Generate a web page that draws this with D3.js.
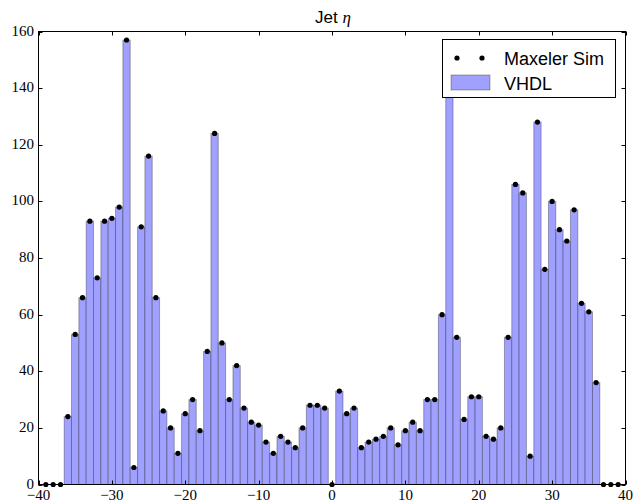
<!DOCTYPE html>
<html>
<head>
<meta charset="utf-8">
<script src="https://cdn.jsdelivr.net/npm/d3@7"></script>
<style>
  html, body { margin: 0; padding: 0; background: #fff; }
  svg { display: block; }
</style>
</head>
<body>
<svg id="chart" width="634" height="502"></svg>
<script>
// Jet eta bins (integer bin centres)
const etaBins = [
  -39, -38, -37, -36, -35, -34, -33, -32, -31, -30,
  -29, -28, -27, -26, -25, -24, -23, -22, -21, -20,
  -19, -18, -17, -16, -15, -14, -13, -12, -11, -10,
  -9, -8, -7, -6, -5, -4, -3, -2, -1, 0,
  1, 2, 3, 4, 5, 6, 7, 8, 9, 10,
  11, 12, 13, 14, 15, 16, 17, 18, 19, 20,
  21, 22, 23, 24, 25, 26, 27, 28, 29, 30,
  31, 32, 33, 34, 35, 36, 37, 38, 39
];

// VHDL histogram counts per bin
const vhdlCounts = [
  0, 0, 0, 24, 53, 66, 93, 73, 93, 94,
  98, 157, 6, 91, 116, 66, 26, 20, 11, 25,
  30, 19, 47, 124, 50, 30, 42, 27, 22, 21,
  15, 11, 17, 15, 13, 20, 28, 28, 27, 0,
  33, 25, 27, 13, 15, 16, 17, 20, 14, 19,
  22, 19, 30, 30, 60, 152, 52, 23, 31, 31,
  17, 16, 20, 52, 106, 103, 10, 128, 76, 100,
  90, 86, 97, 64, 61, 36, 0, 0, 0
];

// Maxeler simulation counts per bin
const simCounts = [
  0, 0, 0, 24, 53, 66, 93, 73, 93, 94,
  98, 157, 6, 91, 116, 66, 26, 20, 11, 25,
  30, 19, 47, 124, 50, 30, 42, 27, 22, 21,
  15, 11, 17, 15, 13, 20, 28, 28, 27, 0,
  33, 25, 27, 13, 15, 16, 17, 20, 14, 19,
  22, 19, 30, 30, 60, 152, 52, 23, 31, 31,
  17, 16, 20, 52, 106, 103, 10, 128, 76, 100,
  90, 86, 97, 64, 61, 36, 0, 0, 0
];

const xTicks = [-40, -30, -20, -10, 0, 10, 20, 30, 40];
const yTicks = [0, 20, 40, 60, 80, 100, 120, 140, 160];

const svg = d3.select("#chart");
const plotLeft = 38.5, plotRight = 625.5, plotTop = 31.5, plotBottom = 484.5;

const x = d3.scaleLinear().domain([-40, 40]).range([plotLeft, plotRight]);
const y = d3.scaleLinear().domain([0, 160]).range([plotBottom, plotTop]);

const plot = svg.append("g");

// histogram bars
plot.selectAll("rect.bar")
  .data(etaBins.map((b, i) => ({ b, v: vhdlCounts[i] })).filter(d => d.v > 0))
  .join("rect")
  .attr("class", "bar")
  .attr("x", d => x(d.b - 0.5))
  .attr("width", d => x(d.b + 0.5) - x(d.b - 0.5))
  .attr("y", d => y(d.v))
  .attr("height", d => y(0) - y(d.v))
  .attr("fill", "#a0a0ff")
  .attr("stroke", "#000")
  .attr("stroke-opacity", 0.3)
  .attr("stroke-width", 1);

// simulation points
plot.selectAll("circle.pt")
  .data(etaBins.map((b, i) => ({ b, v: simCounts[i] })))
  .join("circle")
  .attr("class", "pt")
  .attr("cx", d => x(d.b))
  .attr("cy", d => y(d.v))
  .attr("r", 2.6)
  .attr("fill", "#000");

// frame
svg.append("rect")
  .attr("x", plotLeft).attr("y", plotTop)
  .attr("width", plotRight - plotLeft).attr("height", plotBottom - plotTop)
  .attr("fill", "none").attr("stroke", "#000").attr("stroke-width", 1);

// inward ticks on all four sides
const tickLen = 4;
const ticks = svg.append("g").attr("stroke", "#000").attr("stroke-width", 1);
xTicks.forEach(t => {
  const px = Math.round(x(t)) + 0.5;
  ticks.append("line").attr("x1", px).attr("x2", px).attr("y1", plotBottom).attr("y2", plotBottom - tickLen);
  ticks.append("line").attr("x1", px).attr("x2", px).attr("y1", plotTop).attr("y2", plotTop + tickLen);
});
yTicks.forEach(t => {
  const py = Math.round(y(t)) + 0.5;
  ticks.append("line").attr("x1", plotLeft).attr("x2", plotLeft + tickLen).attr("y1", py).attr("y2", py);
  ticks.append("line").attr("x1", plotRight).attr("x2", plotRight - tickLen).attr("y1", py).attr("y2", py);
});

const tickFont = "'Liberation Serif', 'DejaVu Serif', serif";
const fmt = v => (v < 0 ? "\u2212" + Math.abs(v) : String(v));

svg.append("g").selectAll("text")
  .data(xTicks).join("text")
  .attr("x", d => x(d)).attr("y", 499.5)
  .attr("text-anchor", "middle")
  .attr("font-family", tickFont).attr("font-size", 15)
  .text(fmt);

svg.append("g").selectAll("text")
  .data(yTicks).join("text")
  .attr("x", 34).attr("y", d => y(d) + 4)
  .attr("text-anchor", "end")
  .attr("font-family", tickFont).attr("font-size", 15)
  .text(fmt);

// title
const title = svg.append("text")
  .attr("x", 333).attr("y", 23)
  .attr("text-anchor", "middle")
  .attr("font-family", "'Liberation Sans', Arial, sans-serif")
  .attr("font-size", 17);
title.append("tspan").text("Jet ");
title.append("tspan").attr("font-family", tickFont).attr("font-style", "italic").text("\u03b7");

// legend
const lg = svg.append("g");
lg.append("rect")
  .attr("x", 442.5).attr("y", 39.5).attr("width", 173).attr("height", 58)
  .attr("fill", "#fff").attr("stroke", "#000").attr("stroke-width", 1);
[457, 482].forEach(cx => lg.append("circle").attr("cx", cx).attr("cy", 58).attr("r", 2.6).attr("fill", "#000"));
lg.append("rect")
  .attr("x", 451).attr("y", 75).attr("width", 39).attr("height", 15)
  .attr("fill", "#a0a0ff").attr("stroke", "#000").attr("stroke-opacity", 0.3);
lg.append("text").attr("x", 504).attr("y", 64.5)
  .attr("font-family", "'Liberation Sans', Arial, sans-serif").attr("font-size", 18)
  .text("Maxeler Sim");
lg.append("text").attr("x", 504).attr("y", 89.5)
  .attr("font-family", "'Liberation Sans', Arial, sans-serif").attr("font-size", 18)
  .text("VHDL");
</script>
</body>
</html>
